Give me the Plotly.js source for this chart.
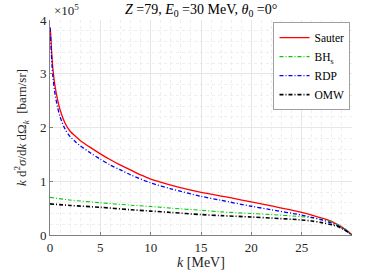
<!DOCTYPE html>
<html>
<head>
<meta charset="utf-8">
<script src="https://cdn.plot.ly/plotly-3.0.1.min.js"></script>
<style>html,body{margin:0;padding:0;background:#fff;}#chart{width:389px;height:272px;}</style>
</head>
<body>
<div id="chart"></div>
<script>
// photon energy k [MeV]
const kSauter = [0, 0.05, 0.1, 0.2, 0.3, 0.5, 0.75, 1, 1.5, 2, 2.5, 3, 4, 5, 6, 7, 8, 9, 10, 12, 14, 15, 17, 18, 20, 22, 24, 25, 26, 27, 28, 28.8, 29.3, 29.7, 30];
const sauter  = [3.87e5, 3.78e5, 3.62e5, 3.3e5, 3.07e5, 2.77e5, 2.52e5, 2.33e5, 2.08e5, 1.93e5, 1.84e5, 1.76e5, 1.63e5, 1.51e5, 1.40e5, 1.30e5, 1.21e5, 1.12e5, 1.04e5, 0.93e5, 0.835e5, 0.795e5, 0.725e5, 0.69e5, 0.615e5, 0.54e5, 0.465e5, 0.42e5, 0.37e5, 0.315e5, 0.25e5, 0.17e5, 0.11e5, 0.05e5, 0];
const kRDP = [0, 0.05, 0.1, 0.2, 0.3, 0.5, 0.75, 1, 1.5, 2, 2.5, 3, 4, 5, 6, 7, 8, 10, 12, 15, 17, 20, 22, 25, 26, 27, 28, 28.8, 29.3, 29.7, 30];
const rdp  = [3.85e5, 3.72e5, 3.52e5, 3.16e5, 2.92e5, 2.62e5, 2.38e5, 2.2e5, 1.97e5, 1.83e5, 1.74e5, 1.66e5, 1.53e5, 1.41e5, 1.30e5, 1.21e5, 1.12e5, 0.97e5, 0.86e5, 0.72e5, 0.645e5, 0.535e5, 0.47e5, 0.37e5, 0.33e5, 0.28e5, 0.22e5, 0.15e5, 0.09e5, 0.04e5, 0];
const kLow = [0, 2, 5, 8, 10, 12, 15, 17, 20, 22, 25, 26, 27, 28, 28.8, 29.3, 29.7, 30];
const bhs  = [0.70e5, 0.65e5, 0.60e5, 0.555e5, 0.53e5, 0.50e5, 0.46e5, 0.43e5, 0.40e5, 0.38e5, 0.34e5, 0.32e5, 0.29e5, 0.24e5, 0.17e5, 0.11e5, 0.05e5, 0];
const omw  = [0.58e5, 0.55e5, 0.515e5, 0.47e5, 0.445e5, 0.42e5, 0.38e5, 0.36e5, 0.335e5, 0.315e5, 0.28e5, 0.26e5, 0.23e5, 0.19e5, 0.14e5, 0.09e5, 0.04e5, 0];
const yTickVals = [0, 1e5, 2e5, 3e5, 4e5];
const yTickText = ['0', '1', '2', '3', '4'];
const xTickVals = [0, 5, 10, 15, 20, 25];

const serif = 'Liberation Serif';
const dd = '4px,2px,1px,2px';
const traces = [
  {x: kSauter, y: sauter, name: 'Sauter', mode: 'lines', line: {color: '#ff0000', width: 1.3, shape: 'spline', smoothing: 0.8}},
  {x: kLow, y: bhs, name: 'BH<sub>s</sub>', mode: 'lines', line: {color: '#00cc00', width: 1.1, dash: dd, shape: 'spline', smoothing: 0.8}},
  {x: kRDP, y: rdp, name: 'RDP', mode: 'lines', line: {color: '#0000ff', width: 1.3, dash: dd, shape: 'spline', smoothing: 0.8}},
  {x: kLow, y: omw, name: 'OMW', mode: 'lines', line: {color: '#000000', width: 1.6, dash: dd, shape: 'spline', smoothing: 0.8}}
];
const axisCommon = {
  showline: true, linecolor: '#808080', linewidth: 1, mirror: false,
  ticks: 'inside', ticklen: 3, tickcolor: '#808080',
  showgrid: true, gridcolor: '#e6e6e6', gridwidth: 1, zeroline: false,
  tickfont: {family: serif, size: 13, color: '#262626'}
};
const layout = {
  width: 389, height: 272,
  margin: {l: 50, r: 37, t: 20, b: 37},
  paper_bgcolor: '#ffffff', plot_bgcolor: '#ffffff',
  font: {family: serif, color: '#000'},
  title: {text: '<i>Z</i> =79, <i>E</i><sub>0</sub> =30 MeV, <i>θ</i><sub>0</sub> =0°', font: {family: serif, size: 14, color: '#000'}, x: 0.517, xanchor: 'center', y: 0.965, yanchor: 'middle'},
  xaxis: Object.assign({}, axisCommon, {
    range: [0, 30], tickvals: xTickVals,
    minor: {dtick: 1, showgrid: true, gridcolor: '#eeeeee', griddash: 'dot', ticks: ''},
    title: {text: '<i>k</i> [MeV]', font: {family: serif, size: 14, color: '#262626'}, standoff: 3}
  }),
  yaxis: Object.assign({}, axisCommon, {
    range: [0, 4e5], tickvals: yTickVals, ticktext: yTickText,
    minor: {dtick: 2e4, showgrid: true, gridcolor: '#eeeeee', griddash: 'dot', ticks: ''},
    title: {text: '<i>k</i> d<sup>2</sup><i>σ</i>/d<i>k</i> dΩ<sub><i>k</i></sub>  [barn/sr]', font: {family: serif, size: 13, color: '#262626'}, standoff: 10}
  }),
  legend: {x: 0.995, xanchor: 'right', y: 0.99, yanchor: 'top', bgcolor: '#ffffff', bordercolor: '#a0a0a0', borderwidth: 1,
           font: {family: serif, size: 11.5, color: '#000'}, tracegroupgap: 0, itemwidth: 30},
  showlegend: true,
  annotations: [{text: '×10<sup>5</sup>', xref: 'paper', yref: 'paper', x: 0.005, y: 1.0, xanchor: 'left', yanchor: 'bottom', showarrow: false, font: {family: serif, size: 13, color: '#262626'}}]
};
Plotly.newPlot('chart', traces, layout, {displayModeBar: false, staticPlot: true});
</script>
</body>
</html>
